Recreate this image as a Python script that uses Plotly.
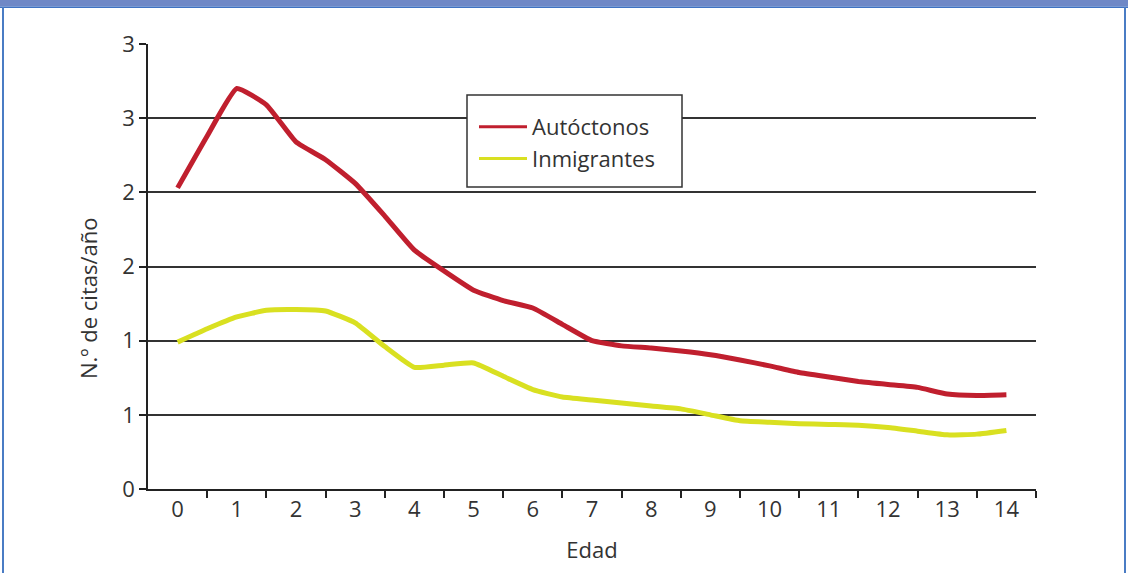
import plotly.graph_objects as go

ages = [0, 0.5, 1, 1.5, 2, 2.5, 3, 3.5, 4, 4.5, 5, 5.5, 6, 6.5, 7, 7.5,
        8, 8.5, 9, 9.5, 10, 10.5, 11, 11.5, 12, 12.5, 13, 13.5, 14]

autoctonos = [2.03, 2.38, 2.70, 2.59, 2.34, 2.22, 2.06, 1.84, 1.61, 1.47, 1.34,
              1.27, 1.22, 1.11, 1.00, 0.965, 0.95, 0.93, 0.905, 0.87, 0.83,
              0.785, 0.755, 0.725, 0.705, 0.685, 0.64, 0.63, 0.635]

inmigrantes = [0.99, 1.08, 1.16, 1.205, 1.21, 1.20, 1.12, 0.96, 0.82, 0.835, 0.85,
               0.76, 0.67, 0.62, 0.60, 0.58, 0.56, 0.54, 0.50, 0.46, 0.45,
               0.44, 0.435, 0.43, 0.415, 0.39, 0.365, 0.37, 0.395]

series_names = ["Autóctonos", "Inmigrantes"]
series_colors = ["#c01f2e", "#d9e021"]

x_labels = [str(i) for i in range(15)]
y_vals = [0, 0.5, 1, 1.5, 2, 2.5, 3]
y_labels = ["0", "1", "1", "2", "2", "3", "3"]
x_title = "Edad"
y_title = "N.º de citas/año"

FONT = "Open Sans"
TXT = "#333333"
FS = 22

W, H = 1128, 573
L, R, T, B = 148, 92, 44, 84
PW, PH = W - L - R, H - T - B


def px(xp):
    return (xp - L) / PW


def py(yp):
    return (H - B - yp) / PH


fig = go.Figure()
for name, vals, col in zip(series_names, [autoctonos, inmigrantes], series_colors):
    fig.add_trace(go.Scatter(x=ages, y=vals, mode="lines", name=name, showlegend=False,
                             line=dict(color=col, width=5, shape="spline", smoothing=0.4)))
# legend-only entries with thinner sample lines
for name, col in zip(series_names, series_colors):
    fig.add_trace(go.Scatter(x=[None], y=[None], mode="lines", name=name, showlegend=True,
                             line=dict(color=col, width=3)))

fig.update_layout(
    width=W, height=H,
    margin=dict(l=L, r=R, t=T, b=B),
    paper_bgcolor="white", plot_bgcolor="white",
    font=dict(family=FONT, size=FS, color=TXT),
    showlegend=True,
    legend=dict(
        x=px(474), y=py(106), xanchor="left", yanchor="top",
        bgcolor="rgba(0,0,0,0)", borderwidth=0,
        font=dict(family=FONT, size=22, color=TXT),
        itemwidth=48, tracegroupgap=0),
    xaxis=dict(
        range=[-0.5, 14.5], tickvals=list(range(15)), ticktext=x_labels,
        ticks="", showgrid=False, zeroline=False,
        showline=True, linecolor="#222222", linewidth=1.5,
        tickfont=dict(family=FONT, size=FS, color=TXT),
        minor=dict(tickvals=[i + 0.5 for i in range(15)], ticks="outside",
                   ticklen=7, tickwidth=1.5, tickcolor="#222222", showgrid=False),
        title=dict(text=x_title, font=dict(family=FONT, size=FS, color=TXT), standoff=20),
        fixedrange=True,
    ),
    yaxis=dict(
        range=[0, 3], tickvals=y_vals, ticktext=y_labels,
        ticks="outside", ticklen=7, tickwidth=1.5, tickcolor="#222222",
        showgrid=True, gridcolor="#333333", gridwidth=1.5, zeroline=False,
        showline=True, linecolor="#222222", linewidth=1.5,
        tickfont=dict(family=FONT, size=FS, color=TXT),
        fixedrange=True,
    ),
)

# y-axis title placed as in the reference (slightly below the plot centre)
fig.add_annotation(text=y_title, xref="paper", yref="paper", x=px(88), y=py(299),
                   xanchor="center", yanchor="middle", textangle=-90, showarrow=False,
                   font=dict(family=FONT, size=22, color=TXT))

# legend frame
fig.add_shape(type="rect", xref="paper", yref="paper",
              x0=px(467), x1=px(682), y0=py(187), y1=py(95),
              fillcolor="white", line=dict(color="#333333", width=1.5), layer="above")

# header bar and page frame
fig.add_shape(type="rect", xref="paper", yref="paper",
              x0=px(0), x1=px(W), y0=py(6.5), y1=py(-2),
              fillcolor="#6f88c6", line=dict(width=0), layer="above")
fig.add_shape(type="rect", xref="paper", yref="paper",
              x0=px(0), x1=px(W), y0=py(8), y1=py(6.5),
              fillcolor="#3f72c2", line=dict(width=0), layer="above")
fig.add_shape(type="line", xref="paper", yref="paper",
              x0=px(3), x1=px(3), y0=py(H + 2), y1=py(7),
              line=dict(color="#4a7cc4", width=2))
fig.add_shape(type="line", xref="paper", yref="paper",
              x0=px(1125), x1=px(1125), y0=py(H + 2), y1=py(7),
              line=dict(color="#4a7cc4", width=2))

fig.write_html("out.html", config={"displayModeBar": False},
               post_script="document.body.style.margin='0';document.body.style.overflow='hidden';")
